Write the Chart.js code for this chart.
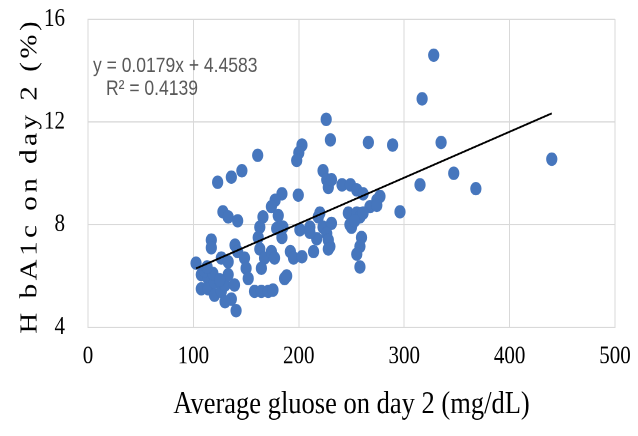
<!DOCTYPE html>
<html>
<head>
<meta charset="utf-8">
<script src="https://cdn.jsdelivr.net/npm/chart.js@4"></script>
<style>
  html, body { margin: 0; padding: 0; background: #fff; }
  #outer { width: 638px; height: 436px; overflow: hidden; position: relative; }
  /* el original está estirado en vertical, así que dibujamos más bajo y estiramos */
  #wrap { position: absolute; left: 0; top: 0; width: 638px; height: 363px; transform: scaleY(1.2011); transform-origin: 0 0; }
</style>
</head>
<body>
<div id="outer"><div id="wrap"><canvas id="myChart" width="638" height="363"></canvas></div></div>
<script>
// Datos
const glucose = [328, 317, 226, 230, 266, 289, 335, 203, 200, 198, 161, 146, 136, 123, 440, 347, 315, 368, 296, 277,
  223, 226.5, 228, 241, 249, 255, 261, 274, 199.5, 184, 177.5, 174, 128, 133, 142, 166, 163, 161.5, 180.5, 185,
  184, 201, 210.5, 218.5, 223, 231, 226.5, 247, 255, 250, 258, 267.5, 259.5, 258, 255, 258, 214, 229.5, 228, 192,
  195, 203, 117, 102.5, 139.5, 142, 126.5, 133, 148.5, 150, 152, 163, 167.5, 164.5, 174, 177, 158, 164.5, 171, 175.5,
  140.5, 186.5, 179, 220, 217, 210.5, 274, 248.5, 188.5, 231, 261, 253, 107.5, 114, 107.5, 114, 120, 120, 126.5, 130,
  133, 139, 136, 130, 110.5, 118.5, 117, 228, 113, 125];
const hba1c = [14.6, 12.9, 12.1, 11.3, 11.2, 11.1, 11.2, 11.1, 10.8, 10.5, 10.7, 10.1, 9.85, 9.65, 10.55, 10.0, 9.55, 9.4, 8.5, 9.1,
  10.1, 9.75, 9.45, 9.55, 9.55, 9.35, 9.2, 8.95, 9.15, 9.2, 8.95, 8.7, 8.5, 8.3, 8.15, 8.3, 7.9, 7.5, 8.35, 7.9,
  7.5, 7.8, 7.9, 8.3, 7.9, 8.05, 7.65, 8.45, 8.45, 7.9, 8.3, 8.7, 7.5, 7.15, 6.85, 6.35, 6.95, 7.15, 7.4, 6.95,
  6.7, 6.75, 7.4, 6.5, 7.2, 6.95, 6.7, 6.55, 6.7, 6.3, 5.9, 7.05, 6.7, 6.3, 6.95, 6.7, 5.4, 5.4, 5.4, 5.45,
  4.65, 5.9, 7.85, 8.45, 7.45, 7.7, 8.75, 8.0, 6.0, 9.75, 8.45, 8.15, 6.05, 5.9, 5.5, 5.5, 5.75, 5.25, 5.4, 5.65,
  6.05, 5.65, 5.1, 5.0, 6.2, 6.1, 7.1, 7.05, 6.35, 5.85];

// Línea de tendencia (Excel)
const slope = 0.0179;
const intercept = 4.4583;
const equationText = 'y = 0.0179x + 4.4583';
const r2Text = 'R² = 0.4139';
const yTitle = 'H bA1c on day 2 (%)';

const xTicks = [0, 100, 200, 300, 400, 500];
const yTicks = [4, 8, 12, 16];

const points = glucose.map((g, i) => ({ x: g, y: hba1c[i] }));
const xMin = Math.min(...glucose);
const xMax = Math.max(...glucose);
const trend = [xMin, xMax].map(x => ({ x: x, y: slope * x + intercept }));

const serif = '"Liberation Serif", "Times New Roman", serif';

// textos extra: ecuación y título del eje Y (con espaciado entre letras)
const extraText = {
    id: 'extraText',
    afterDraw(chart) {
        const { ctx, chartArea } = chart;
        ctx.save();
        ctx.fillStyle = '#595959';
        ctx.font = '17.5px "Liberation Sans", Arial, sans-serif';
        ctx.textBaseline = 'middle';
        ctx.textAlign = 'left';
        ctx.fillText(equationText, chartArea.left + 5, chartArea.top + 39);
        ctx.fillText(r2Text, chartArea.left + 18, chartArea.top + 58);
        ctx.restore();

        ctx.save();
        ctx.fillStyle = '#000';
        ctx.font = '24px ' + serif;
        ctx.letterSpacing = '3px';
        ctx.textAlign = 'center';
        ctx.textBaseline = 'middle';
        ctx.translate(30, (chartArea.top + chartArea.bottom) / 2 + 2);
        ctx.rotate(-Math.PI / 2);
        ctx.fillText(yTitle, 0, 0);
        ctx.restore();
    }
};

const gridColor = '#d9d9d9';

var ctx = document.getElementById('myChart').getContext('2d');
var myChart = new Chart(ctx, {
    type: 'scatter',
    data: {
        datasets: [{
            type: 'line',
            data: trend,
            borderColor: '#000',
            borderWidth: 1.6,
            pointRadius: 0,
            fill: false,
            order: 0
        }, {
            data: points,
            backgroundColor: '#4676bd',
            borderWidth: 0,
            pointRadius: 5.6,
            order: 1
        }]
    },
    options: {
        responsive: false,
        animation: false,
        devicePixelRatio: 2,
        layout: { padding: { top: 16, right: 23, left: 0, bottom: 0 } },
        plugins: {
            legend: { display: false },
            tooltip: { enabled: false }
        },
        scales: {
            x: {
                type: 'linear',
                min: 0,
                max: 500,
                afterBuildTicks: s => { s.ticks = xTicks.map(v => ({ value: v })); },
                afterFit: s => { s.height = 90.5; },
                grid: { color: gridColor, drawTicks: true, tickLength: 9, tickColor: 'rgba(0,0,0,0)' },
                border: { color: gridColor },
                ticks: { color: '#000', padding: 3, font: { family: serif, size: 21 } },
                title: {
                    display: true,
                    text: 'Average gluose on day 2 (mg/dL)',
                    color: '#000',
                    font: { family: serif, size: 26.5 },
                    padding: { top: 0, bottom: 10 }
                }
            },
            y: {
                min: 4,
                max: 16,
                afterBuildTicks: s => { s.ticks = yTicks.map(v => ({ value: v })); },
                afterFit: s => { s.width = 88; },
                grid: { color: gridColor, drawTicks: true, tickLength: 20, tickColor: 'rgba(0,0,0,0)' },
                border: { color: gridColor },
                ticks: { color: '#000', padding: 3, font: { family: serif, size: 21 } }
            }
        }
    },
    plugins: [extraText]
});
</script>
</body>
</html>
